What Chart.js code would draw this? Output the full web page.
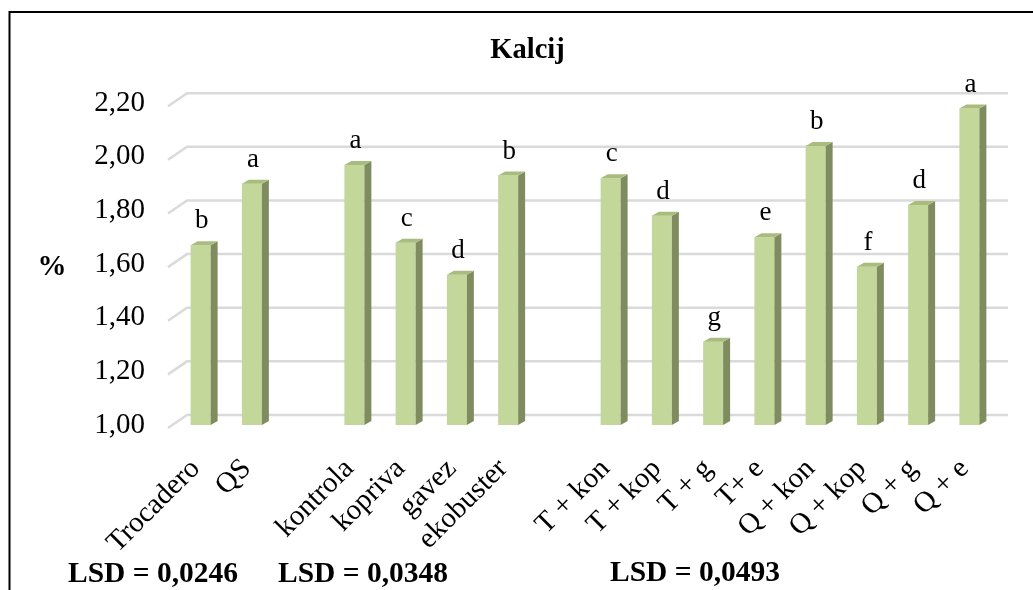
<!DOCTYPE html>
<html>
<head>
<meta charset="utf-8">
<script src="https://cdn.jsdelivr.net/npm/chart.js@4.4.1/dist/chart.umd.min.js"></script>
<style>
  html, body { margin: 0; padding: 0; background: #fff; }
  #wrap { width: 1033px; height: 590px; position: relative; }
</style>
</head>
<body>
<div id="wrap"><canvas id="kalcij"></canvas></div>
<script>
// categories (empty strings are the gaps between groups)
let categories = ['Trocadero', 'QS', '', 'kontrola', 'kopriva', 'gavez', 'ekobuster', '',
    'T + kon', 'T + kop', 'T + g', 'T+ e', 'Q + kon', 'Q + kop', 'Q + g', 'Q + e'];
let calciumValues = [1.67, 1.90, null, 1.97, 1.68, 1.56, 1.93, null,
    1.92, 1.78, 1.31, 1.70, 2.04, 1.59, 1.82, 2.18];
let groupLetters = ['b', 'a', '', 'a', 'c', 'd', 'b', '',
    'c', 'd', 'g', 'e', 'b', 'f', 'd', 'a'];
let yTicks = [1.0, 1.2, 1.4, 1.6, 1.8, 2.0, 2.2];
let lsdLabels = ['LSD = 0,0246', 'LSD = 0,0348', 'LSD = 0,0493'];

const serif = '"Liberation Serif", "Times New Roman", serif';
const frontColor = '#c4d79b';
const sideColor = '#7f8c5f';
const topColor = '#a8bd7d';

// back wall grid lines with the little diagonal floor stubs
const wallGrid = {
    id: 'wallGrid',
    beforeDatasetsDraw(chart) {
        let ctx = chart.ctx;
        let area = chart.chartArea;
        let yScale = chart.scales.y;
        ctx.save();
        ctx.strokeStyle = '#dadada';
        ctx.lineWidth = 2.5;
        yTicks.forEach(function(v) {
            let y = yScale.getPixelForValue(v);
            ctx.beginPath();
            ctx.moveTo(area.left - 7, y + 3);
            ctx.lineTo(area.left + 12, y - 10);
            ctx.lineTo(area.right + 13, y - 10);
            ctx.stroke();
        });
        ctx.restore();
    }
};

// side + top faces of the columns, and the letters above them
const columns3d = {
    id: 'columns3d',
    afterDatasetsDraw(chart) {
        let ctx = chart.ctx;
        let meta = chart.getDatasetMeta(0);
        let bottom = chart.chartArea.bottom;
        let dx = 7, dy = 4;
        ctx.save();
        meta.data.forEach(function(bar, i) {
            if (calciumValues[i] === null) return;
            let left = bar.x - bar.width / 2;
            let right = bar.x + bar.width / 2;
            let base = Math.min(bar.base, bottom);
            ctx.fillStyle = sideColor;
            ctx.beginPath();
            ctx.moveTo(right, bar.y);
            ctx.lineTo(right + dx, bar.y - dy);
            ctx.lineTo(right + dx, base - dy);
            ctx.lineTo(right, base);
            ctx.closePath();
            ctx.fill();

            ctx.fillStyle = topColor;
            ctx.beginPath();
            ctx.moveTo(left, bar.y);
            ctx.lineTo(left + dx, bar.y - dy);
            ctx.lineTo(right + dx, bar.y - dy);
            ctx.lineTo(right, bar.y);
            ctx.closePath();
            ctx.fill();

            ctx.fillStyle = '#000';
            ctx.font = '27px ' + serif;
            ctx.textAlign = 'center';
            ctx.textBaseline = 'alphabetic';
            ctx.fillText(groupLetters[i], bar.x + 1, bar.y - 17);
        });
        ctx.restore();
    }
};

// frame, % label and LSD notes
const extras = {
    id: 'extras',
    afterDraw(chart) {
        let ctx = chart.ctx;
        let yScale = chart.scales.y;
        ctx.save();
        ctx.strokeStyle = '#000';
        ctx.lineWidth = 2;
        ctx.beginPath();
        ctx.moveTo(9.5, chart.height);
        ctx.lineTo(9.5, 12);
        ctx.lineTo(chart.width, 12);
        ctx.stroke();

        ctx.fillStyle = '#000';
        ctx.font = 'bold 29px ' + serif;
        ctx.textAlign = 'center';
        ctx.textBaseline = 'middle';
        ctx.fillText('%', 52, yScale.getPixelForValue(1.6) + 3);

        ctx.font = 'bold 29.5px ' + serif;
        ctx.textAlign = 'left';
        ctx.textBaseline = 'alphabetic';
        ctx.fillText(lsdLabels[0], 68, 582);
        ctx.fillText(lsdLabels[1], 278, 582);
        ctx.fillText(lsdLabels[2], 610, 581);
        ctx.restore();
    }
};

let ctx = document.getElementById('kalcij').getContext('2d');
let chart = new Chart(ctx, {
    type: 'bar',
    data: {
        labels: categories,
        datasets: [{
            data: calciumValues,
            backgroundColor: frontColor,
            borderWidth: 0,
            barPercentage: 0.39,
            categoryPercentage: 1
        }]
    },
    options: {
        responsive: true,
        maintainAspectRatio: false,
        animation: false,
        layout: {
            padding: { left: 60, right: 38, top: 0, bottom: 0 }
        },
        plugins: {
            legend: { display: false },
            tooltip: { enabled: false },
            title: {
                display: true,
                text: 'Kalcij',
                color: '#000',
                font: { family: serif, size: 28.5, weight: 'bold' },
                padding: { top: 34, bottom: 35 }
            }
        },
        scales: {
            x: {
                grid: { display: false, drawTicks: false },
                border: { display: false },
                ticks: {
                    color: '#000',
                    font: { family: serif, size: 29 },
                    minRotation: 45,
                    maxRotation: 45,
                    autoSkip: false,
                    padding: 27,
                    labelOffset: -5
                },
                afterFit: function(scale) { scale.height = 165; }
            },
            y: {
                min: 1,
                max: 2.2,
                grid: { display: false, drawTicks: false },
                border: { display: false },
                ticks: {
                    stepSize: 0.2,
                    color: '#000',
                    font: { family: serif, size: 29 },
                    padding: 30,
                    callback: function(v) { return v.toFixed(2).replace('.', ','); }
                },
                afterFit: function(scale) { scale.width = 115; }
            }
        }
    },
    plugins: [wallGrid, columns3d, extras]
});
</script>
</body>
</html>
